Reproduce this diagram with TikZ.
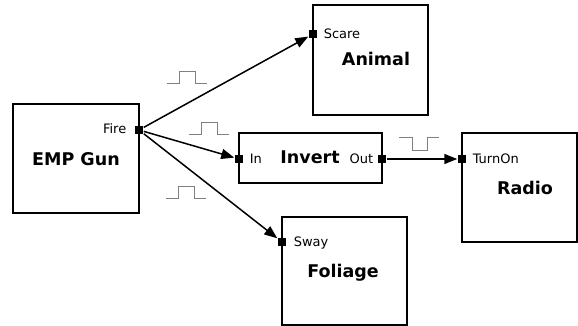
\documentclass[tikz,border=0pt]{standalone}
\usepackage{fontspec}
\setmainfont{DejaVu Sans}
\usetikzlibrary{arrows.meta}

\begin{document}
\begin{tikzpicture}[x=1pt, y=-1pt, line width=1.5pt,
    block/.style={draw, inner sep=0pt},
    port/.style={fill=black, inner sep=0pt, minimum size=8pt},
    portlabel/.style={inner sep=0pt, font=\fontsize{13}{15}\selectfont},
    title/.style={inner sep=0pt, anchor=base, font=\fontsize{17.5}{20}\selectfont\bfseries},
    wire/.style={-{Triangle[length=13pt, width=10pt]}},
    pulse/.style={gray, line width=1pt}]
  \useasboundingbox (0,0) rectangle (578,326);

  % blocks
  \node[block, minimum width=126pt, minimum height=109pt] (gun) at (76,158.5) {};
  \node[block, minimum width=115pt, minimum height=110pt] (animal) at (370.5,60) {};
  \node[block, minimum width=143pt, minimum height=50pt] (invert) at (310.5,158) {};
  \node[block, minimum width=115pt, minimum height=109pt] (radio) at (519.5,187.5) {};
  \node[block, minimum width=125pt, minimum height=108pt] (foliage) at (344.5,271) {};

  % titles
  \node[title] (guntitle) at (76,165) {EMP Gun};
  \node[title] (animaltitle) at (376,65.5) {Animal};
  \node[title] (inverttitle) at (310,164) {Invert};
  \node[title] (radiotitle) at (525,194) {Radio};
  \node[title] (foliagetitle) at (343,277) {Foliage};

  % ports
  \node[port] (fire) at (139,130) {};
  \node[port] (scare) at (313,34) {};
  \node[port] (in) at (239,159) {};
  \node[port] (out) at (382,159) {};
  \node[port] (turnon) at (462,159) {};
  \node[port] (sway) at (282,242) {};

  \node[portlabel, anchor=base east] at (127,133) {Fire};
  \node[portlabel, anchor=base west] at (323,39) {Scare};
  \node[portlabel, anchor=base west] at (249,163.5) {In};
  \node[portlabel, anchor=base east] at (374,163.5) {Out};
  \node[portlabel, anchor=base west] at (472,163.5) {TurnOn};
  \node[portlabel, anchor=base west] at (293,246) {Sway};

  % connectors
  \draw[wire] (fire) -- (scare);
  \draw[wire] (fire) -- (in);
  \draw[wire] (fire) -- (sway);
  \draw[wire] (out) -- (turnon);

  % signal shapes
  \foreach \px/\py in {167/84, 189/135, 166/198}
    \draw[pulse] (\px,\py) -- ++(12,0) -- ++(0,-12) -- ++(16,0) -- ++(0,12) -- ++(12,0);
  \draw[pulse] (399,138) -- ++(13,0) -- ++(0,12) -- ++(15,0) -- ++(0,-12) -- ++(12,0);
\end{tikzpicture}
\end{document}
